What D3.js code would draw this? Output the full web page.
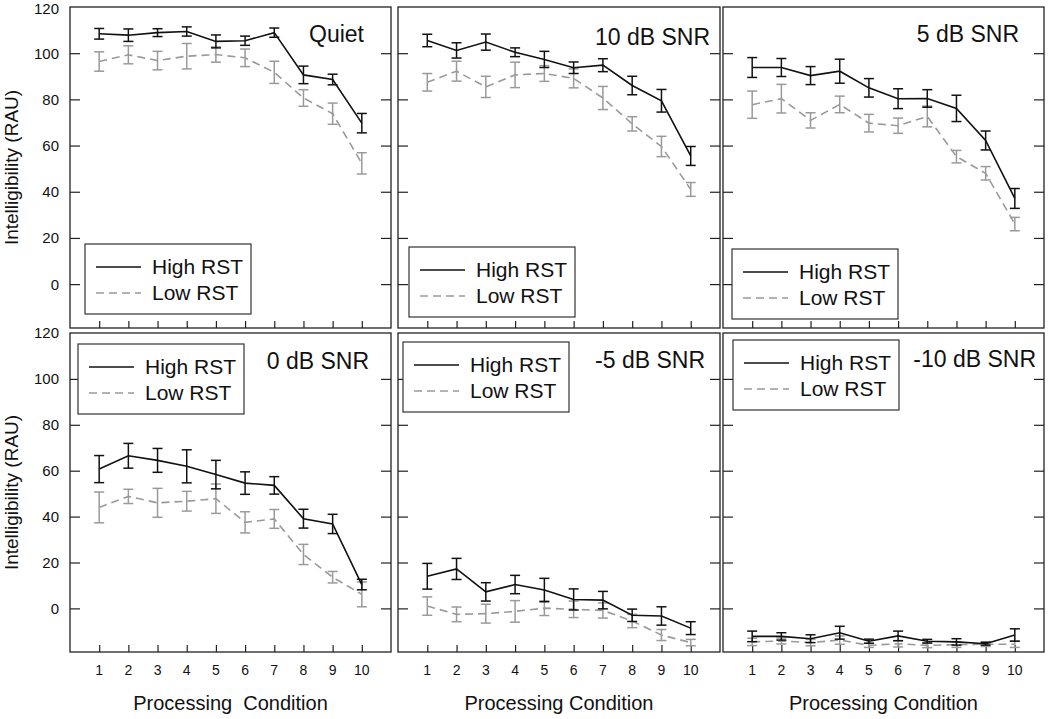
<!DOCTYPE html>
<html><head><meta charset="utf-8">
<script src="https://cdn.jsdelivr.net/npm/d3@7"></script>
<style>body{margin:0;background:#fff;}svg{display:block;font-family:Arial,"Liberation Sans",sans-serif;}</style>
</head><body>
<svg id="chart" width="1050" height="719"></svg>
<script>
const conditions = [1,2,3,4,5,6,7,8,9,10];
const yTicks = [0,20,40,60,80,100,120];
const panelTitles = ["Quiet","10 dB SNR","5 dB SNR","0 dB SNR","-5 dB SNR","-10 dB SNR"];
const seriesNames = ["High RST","Low RST"];

const quietHigh = [108.4,107.8,108.9,109.4,105.1,105.4,108.9,90.6,88.6,69.7];
const quietHighErr = [2.3,2.7,1.7,2.0,2.8,2.0,2.0,3.8,2.3,4.2];
const quietLow = [96.4,99.3,96.8,98.7,99.4,98.0,91.7,80.6,73.8,52.3];
const quietLowErr = [4.2,3.9,4.0,5.5,3.3,3.8,4.8,3.6,4.6,4.6];

const snr10High = [105.5,101.2,104.8,100.4,97.3,93.7,94.8,86.0,79.4,55.5];
const snr10HighErr = [2.7,3.3,3.5,1.9,3.5,2.5,2.8,4.0,4.9,4.1];
const snr10Low = [87.4,92.2,85.4,90.6,91.2,89.1,80.6,69.4,59.6,41.0];
const snr10LowErr = [3.8,4.3,4.6,5.5,3.4,4.1,5.0,3.1,4.4,3.0];

const snr5High = [93.8,93.8,90.3,92.2,85.0,80.3,80.4,76.1,62.2,37.1];
const snr5HighErr = [4.3,3.9,3.9,5.2,4.0,4.3,3.8,5.7,4.1,4.3];
const snr5Low = [77.7,80.3,70.9,77.8,69.7,68.6,72.6,55.2,48.0,26.0];
const snr5LowErr = [5.9,6.2,3.3,3.6,3.8,3.3,4.5,2.7,2.9,2.9];

const snr0High = [60.7,66.5,64.5,61.9,58.3,54.6,53.6,39.1,36.8,10.4];
const snr0HighErr = [5.9,5.4,5.2,7.2,6.2,4.9,3.8,4.1,4.2,2.3];
const snr0Low = [44.0,48.8,46.0,46.7,47.8,37.5,39.0,23.5,13.6,6.1];
const snr0LowErr = [6.7,3.1,6.3,4.3,6.4,4.6,4.1,4.4,2.5,5.4];

const snrM5High = [14.0,17.2,7.2,10.4,8.0,3.9,3.6,-3.0,-3.3,-8.6];
const snrM5HighErr = [5.6,4.6,4.0,4.0,5.1,4.6,3.8,2.7,4.0,2.8];
const snrM5Low = [1.0,-2.6,-2.3,-1.3,0.1,-0.4,-0.9,-5.5,-11.6,-14.9];
const snrM5LowErr = [4.0,3.2,4.1,4.7,3.2,3.6,3.3,2.9,2.4,1.4];

const snrM10High = [-12.2,-12.2,-13.2,-10.6,-14.3,-12.0,-14.3,-14.6,-15.4,-11.6];
const snrM10HighErr = [2.3,1.6,1.7,2.8,0.9,2.1,0.8,1.4,0.6,2.7];
const snrM10Low = [-14.6,-14.2,-14.9,-13.8,-16.1,-15.4,-16.1,-15.8,-15.6,-15.6];
const snrM10LowErr = [1.6,1.3,1.4,1.8,0.9,1.4,1.0,1.2,1.0,1.4];

const panelData = [
  [quietHigh,quietHighErr,quietLow,quietLowErr],
  [snr10High,snr10HighErr,snr10Low,snr10LowErr],
  [snr5High,snr5HighErr,snr5Low,snr5LowErr],
  [snr0High,snr0HighErr,snr0Low,snr0LowErr],
  [snrM5High,snrM5HighErr,snrM5Low,snrM5LowErr],
  [snrM10High,snrM10HighErr,snrM10Low,snrM10LowErr]
];

// layout
const cols = [{x:70,w:321},{x:398,w:322},{x:723,w:321}];
const rows = [{y:7,h:321},{y:333,h:319}];
const titlePos = [{x:364,y:42},{x:710,y:45},{x:1019,y:42},{x:369,y:369},{x:705,y:368},{x:1036,y:367}];
const legendPos = [{x:85,y:244},{x:409,y:247},{x:732,y:249},{x:78,y:344},{x:403,y:342},{x:733,y:340}];

const svg = d3.select("#chart");
const colors = ["#111","#9a9a9a"];
const dashes = [null,"8,5"];

panelData.forEach((pd, i) => {
  const c = cols[i%3], r = rows[Math.floor(i/3)];
  const x = d3.scaleLinear().domain([0,11]).range([c.x, c.x+c.w]);
  const y = d3.scaleLinear().domain([-19,120]).range([r.y+r.h, r.y]);
  const g = svg.append("g");

  // inner ticks left/right/bottom
  const yt = yTicks.filter(v => v < 120);
  g.append("g").attr("transform",`translate(${c.x},0)`)
    .call(d3.axisRight(y).tickValues(yt).tickSize(10).tickFormat(""))
    .call(a => a.select(".domain").remove())
    .selectAll("line").attr("stroke","#222").attr("stroke-width",1.2);
  g.append("g").attr("transform",`translate(${c.x+c.w},0)`)
    .call(d3.axisLeft(y).tickValues(yt).tickSize(10).tickFormat(""))
    .call(a => a.select(".domain").remove())
    .selectAll("line").attr("stroke","#222").attr("stroke-width",1.2);
  g.append("g").attr("transform",`translate(0,${r.y+r.h})`)
    .call(d3.axisTop(x).tickValues(conditions).tickSize(7).tickFormat(""))
    .call(a => a.select(".domain").remove())
    .selectAll("line").attr("stroke","#222").attr("stroke-width",1.2);

  // y labels
  if (i%3===0) {
    g.append("g").selectAll("text").data(yTicks).join("text")
      .attr("x", c.x-11).attr("y", d => Math.max(y(d), 9)).attr("dy","0.36em")
      .attr("text-anchor","end").attr("font-size",15).attr("fill","#111")
      .text(d => d);
    g.append("text")
      .attr("transform",`translate(18,${r.y + r.h/2}) rotate(-90)`)
      .attr("text-anchor","middle").attr("font-size",19).attr("fill","#111")
      .text("Intelligibility (RAU)");
  }
  // x labels for bottom row
  if (i>=3) {
    g.append("g").selectAll("text").data(conditions).join("text")
      .attr("x", d => x(d)).attr("y", 675)
      .attr("text-anchor","middle").attr("font-size",14).attr("fill","#111")
      .text(d => d);
    g.append("text").attr("x", c.x + c.w/2).attr("y", 710)
      .attr("text-anchor","middle").attr("font-size",20).attr("fill","#111")
      .style("white-space","pre")
      .text(i===3 ? "Processing  Condition" : "Processing Condition");
  }

  // series (low first so high is on top)
  [1,0].forEach(s => {
    const vals = pd[s*2], errs = pd[s*2+1];
    const pts = conditions.map((cnd,k) => ({x:cnd, v:vals[k], e:errs[k]}));
    const col = colors[s];
    const eb = g.append("g").attr("stroke",col).attr("stroke-width",1.5).attr("fill","none");
    pts.forEach(p => {
      const px = x(p.x), y1 = y(p.v + p.e), y2 = y(p.v - p.e);
      eb.append("line").attr("x1",px).attr("x2",px).attr("y1",y1).attr("y2",y2);
      eb.append("line").attr("x1",px-5).attr("x2",px+5).attr("y1",y1).attr("y2",y1);
      eb.append("line").attr("x1",px-5).attr("x2",px+5).attr("y1",y2).attr("y2",y2);
    });
    g.append("path").datum(pts)
      .attr("d", d3.line().x(p => x(p.x)).y(p => y(p.v)))
      .attr("fill","none").attr("stroke",col).attr("stroke-width",1.6)
      .attr("stroke-dasharray", dashes[s]);
  });

  // panel border
  g.append("rect").attr("x",c.x).attr("y",r.y).attr("width",c.w).attr("height",r.h)
    .attr("fill","none").attr("stroke","#222").attr("stroke-width",1.3);

  // title
  g.append("text").attr("x",titlePos[i].x).attr("y",titlePos[i].y)
    .attr("text-anchor","end").attr("font-size",23).attr("fill","#111")
    .text(panelTitles[i]);

  // legend
  const lp = legendPos[i];
  const lg = g.append("g").attr("transform",`translate(${lp.x},${lp.y})`);
  lg.append("rect").attr("width",166).attr("height",70).attr("fill","#fff")
    .attr("stroke","#333").attr("stroke-width",1.2);
  seriesNames.forEach((nm,s) => {
    const ly = 23 + s*26;
    lg.append("line").attr("x1",11).attr("x2",56).attr("y1",ly).attr("y2",ly)
      .attr("stroke",colors[s]).attr("stroke-width",1.6).attr("stroke-dasharray",dashes[s]);
    lg.append("text").attr("x",67).attr("y",ly+7).attr("font-size",21).attr("fill","#111").text(nm);
  });
});
</script>
</body></html>
